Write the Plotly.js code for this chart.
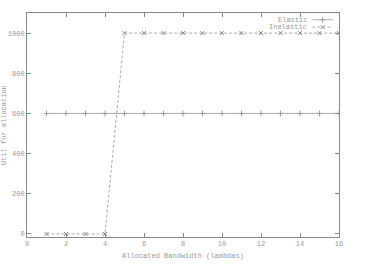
<!DOCTYPE html>
<html><head><meta charset="utf-8">
<script src="https://cdn.plot.ly/plotly-3.0.1.min.js"></script>
<style>html,body{margin:0;padding:0;background:#fff}</style>
</head><body><div id="c" style="width:390px;height:268px"></div>
<script>
const elasticX = [1,2,3,4,5,6,7,8,9,10,11,12,13,14,15,16];
const elasticY = [600,600,600,600,600,600,600,600,600,600,600,600,600,600,600,600];
const inelasticX = [1,2,3,4,5,6,7,8,9,10,11,12,13,14,15,16];
const inelasticY = [0,0,0,0,1000,1000,1000,1000,1000,1000,1000,1000,1000,1000,1000,1000];
const xTicks = [0,2,4,6,8,10,12,14,16];
const yTicks = [0,200,400,600,800,1000];
const seriesNames = ['Elastic','Inelastic'];
const xTitle = 'Allocated Bandwidth (lambdas)';
const yTitle = 'Util for allocation';

const font = {family:'Liberation Mono, DejaVu Sans Mono, monospace', size:7, color:'#999'};
const elasticMarker = {symbol:'cross-thin-open', size:4, color:'#999', line:{width:1,color:'#999'}};
const inelasticMarker = {symbol:'x-thin-open', size:4, color:'#888', line:{width:1,color:'#888'}};
const traces = [
  {x:elasticX, y:elasticY, name:seriesNames[0], mode:'lines+markers',
   line:{color:'#aaa', width:1}, marker:elasticMarker},
  {x:inelasticX, y:inelasticY, name:seriesNames[1], mode:'lines+markers',
   line:{color:'#aaa', width:1, dash:'3px,2px'}, marker:inelasticMarker},
  {x:[0.9475], y:[0.97], xaxis:'x2', yaxis:'y2', mode:'markers', marker:elasticMarker, hoverinfo:'skip'},
  {x:[0.9475], y:[0.937], xaxis:'x2', yaxis:'y2', mode:'markers', marker:inelasticMarker, hoverinfo:'skip'}
];
const axisCommon = {showgrid:false, zeroline:false, showline:true, linecolor:'#888', linewidth:1,
  mirror:'ticks', ticks:'inside', ticklen:4, tickcolor:'#888', tickfont:font};
const layout = {
  width:390, height:268, margin:{l:27, r:51, t:13, b:31},
  paper_bgcolor:'#fff', plot_bgcolor:'#fff', showlegend:false,
  font:font,
  xaxis:Object.assign({}, axisCommon, {range:[0,16], tickvals:xTicks, ticktext:xTicks.map(String),
    title:{text:xTitle, font:font, standoff:5}}),
  yaxis:Object.assign({}, axisCommon, {range:[-15,1100], tickvals:yTicks, ticktext:yTicks.map(String)}),
  xaxis2:{overlaying:'x', range:[0,1], visible:false, anchor:'y2'},
  yaxis2:{overlaying:'y', range:[0,1], visible:false, anchor:'x2'},
  annotations:[
    {text:yTitle, xref:'paper', yref:'paper', x:0, y:0.5, xshift:-29, textangle:-90, showarrow:false, font:font},
    {text:seriesNames[0], xref:'paper', yref:'paper', x:0.905, y:0.97, xanchor:'right', yanchor:'middle', showarrow:false, font:font},
    {text:seriesNames[1], xref:'paper', yref:'paper', x:0.905, y:0.937, xanchor:'right', yanchor:'middle', showarrow:false, font:font}
  ],
  shapes:[
    {type:'line', xref:'paper', yref:'paper', x0:0.915, x1:0.98, y0:0.97, y1:0.97, line:{color:'#aaa', width:1}},
    {type:'line', xref:'paper', yref:'paper', x0:0.915, x1:0.98, y0:0.937, y1:0.937, line:{color:'#aaa', width:1, dash:'3px,2px'}}
  ]
};
Plotly.newPlot('c', traces, layout, {staticPlot:true, displayModeBar:false});
</script></body></html>
